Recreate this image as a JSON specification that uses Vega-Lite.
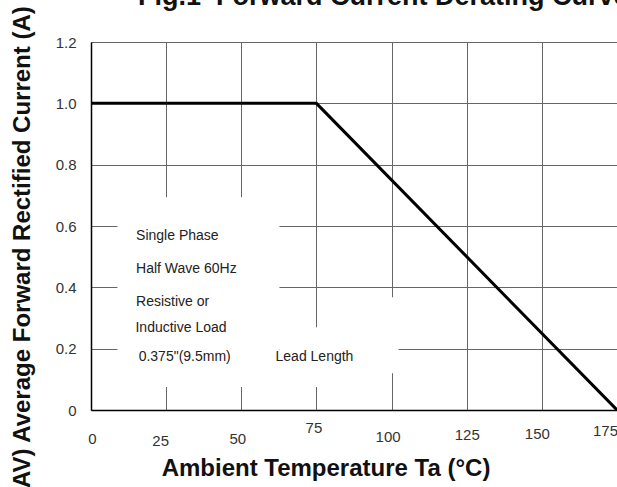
{
  "$schema": "https://vega.github.io/schema/vega-lite/v6.json",
  "width": 526,
  "height": 368,
  "autosize": "none",
  "padding": {"left": 91, "top": 42, "right": 0, "bottom": 77},
  "background": "white",
  "config": {
    "view": {"stroke": null},
    "font": "Liberation Sans"
  },
  "title": {
    "text": "Fig.1\u00a0 Forward Current Derating Curve",
    "anchor": "start",
    "frame": "group",
    "dx": 47,
    "offset": 0,
    "dy": 27,
    "baseline": "alphabetic",
    "font": "Liberation Sans",
    "fontSize": 27,
    "fontWeight": "bold",
    "color": "#111"
  },
  "datasets": {
    "curve": [
      {"ta": 0, "current": 1.0},
      {"ta": 75, "current": 1.0},
      {"ta": 175, "current": 0.0}
    ],
    "boxes": [
      {"x1": 8.8, "x2": 62.7, "y1": 0.075, "y2": 0.694},
      {"x1": 62.7, "x2": 95, "y1": 0.075, "y2": 0.27},
      {"x1": 80, "x2": 102.3, "y1": 0.12, "y2": 0.368}
    ],
    "notes": [
      {"x": 15.0, "y": 0.566, "label": "Single Phase"},
      {"x": 15.0, "y": 0.459, "label": "Half Wave 60Hz"},
      {"x": 15.0, "y": 0.353, "label": "Resistive or"},
      {"x": 14.8, "y": 0.268, "label": "Inductive Load"},
      {"x": 15.85, "y": 0.173, "label": "0.375\"(9.5mm)"},
      {"x": 61.4, "y": 0.173, "label": "Lead Length"}
    ]
  },
  "layer": [
    {
      "data": {"name": "curve"},
      "mark": {"type": "line", "color": "#000", "strokeWidth": 3, "clip": false},
      "encoding": {
        "x": {
          "field": "ta", "type": "quantitative",
          "scale": {"domain": [0, 175], "nice": false, "zero": false},
          "axis": {
            "values": [0, 25, 50, 75, 100, 125, 150, 175],
            "grid": true, "gridColor": "#666", "gridWidth": 1, "gridOpacity": 1,
            "ticks": false, "tickSize": 0,
            "domainColor": "#000", "domainWidth": 1.5,
            "labelFont": "Liberation Sans", "labelFontSize": 15, "labelColor": "#333",
            "labelBaseline": "middle", "labelFlush": false, "labelOverlap": false,
            "labelPadding": {"expr": "datum.value == 0 ? 28 : datum.value == 25 ? 30 : datum.value == 50 ? 28 : datum.value == 75 ? 17 : datum.value == 100 ? 26 : datum.value == 125 ? 24 : datum.value == 150 ? 23 : 20"},
            "labelOffset": {"expr": "datum.value == 0 ? 1 : datum.value == 25 ? -6 : datum.value == 50 ? -4 : datum.value == 75 ? -3 : datum.value == 100 ? -4 : datum.value == 125 ? 0 : datum.value == 150 ? -5 : -12"},
            "title": "Ambient Temperature Ta (°C)",
            "titleFont": "Liberation Sans", "titleFontSize": 24, "titleFontWeight": "bold",
            "titleColor": "#111",
            "titleX": 234.5, "titleY": 65, "titleBaseline": "alphabetic", "titleAlign": "center"
          }
        },
        "y": {
          "field": "current", "type": "quantitative",
          "scale": {"domain": [0, 1.2], "nice": false, "zero": false},
          "axis": {
            "values": [0, 0.2, 0.4, 0.6, 0.8, 1.0, 1.2],
            "labelExpr": "datum.value == 0 ? '0' : format(datum.value, '.1f')",
            "grid": true, "gridColor": "#666", "gridWidth": 1, "gridOpacity": 1,
            "ticks": false, "tickSize": 0,
            "domainColor": "#000", "domainWidth": 1.5,
            "labelFont": "Liberation Sans", "labelFontSize": 15, "labelColor": "#333",
            "labelPadding": 15, "labelFlush": false,
            "title": "I(AV) Average Forward Rectified Current (A)",
            "titleFont": "Liberation Sans", "titleFontSize": 24, "titleFontWeight": "bold",
            "titleColor": "#111",
            "titleX": -62, "titleY": 212, "titleBaseline": "alphabetic", "titleAlign": "center", "titleAngle": -90
          }
        }
      }
    },
    {
      "data": {"name": "boxes"},
      "mark": {"type": "rect", "color": "white", "opacity": 1},
      "encoding": {
        "x": {"field": "x1", "type": "quantitative"},
        "x2": {"field": "x2"},
        "y": {"field": "y1", "type": "quantitative"},
        "y2": {"field": "y2"}
      }
    },
    {
      "data": {"name": "notes"},
      "mark": {"type": "text", "align": "left", "baseline": "middle", "font": "Liberation Sans", "fontSize": 14, "color": "#222"},
      "encoding": {
        "x": {"field": "x", "type": "quantitative"},
        "y": {"field": "y", "type": "quantitative"},
        "text": {"field": "label"}
      }
    }
  ]
}
